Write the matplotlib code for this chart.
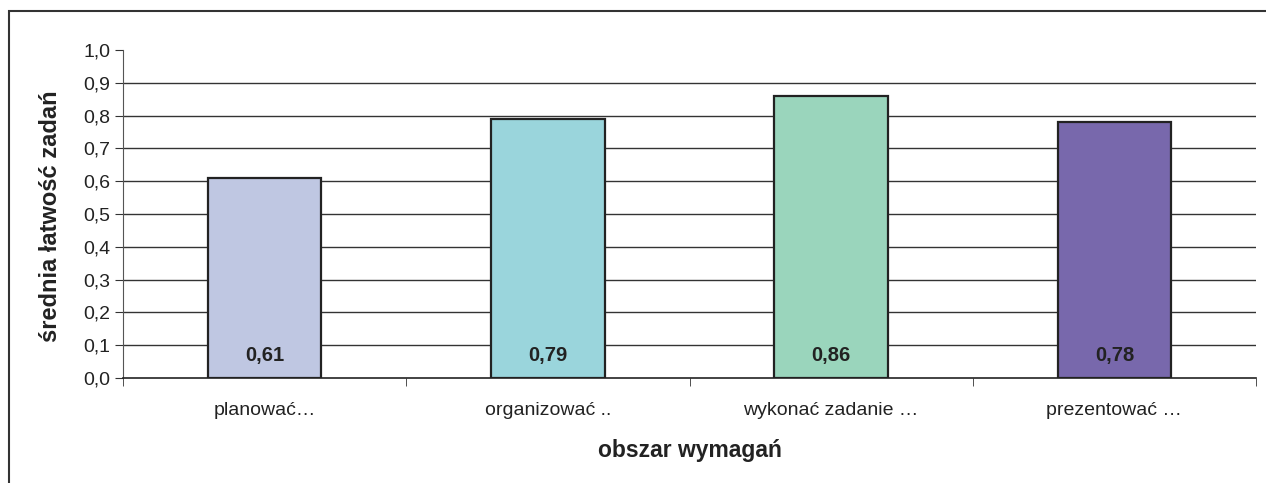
import matplotlib
matplotlib.use("Agg")
import matplotlib.pyplot as plt
from matplotlib.patches import Rectangle
import numpy as np

categories = ["planować…", "organizować ..", "wykonać zadanie …", "prezentować …"]
values = [0.61, 0.79, 0.86, 0.78]
value_labels = ["0,61", "0,79", "0,86", "0,78"]
colors = ["#BFC7E2", "#9AD5DC", "#9AD5BC", "#7868AC"]
yticks = [0.0, 0.1, 0.2, 0.3, 0.4, 0.5, 0.6, 0.7, 0.8, 0.9, 1.0]
ytick_labels = ["0,0", "0,1", "0,2", "0,3", "0,4", "0,5", "0,6", "0,7", "0,8", "0,9", "1,0"]

plt.rcParams['font.family'] = ['Liberation Sans', 'DejaVu Sans']

W, H = 1266, 483
fig = plt.figure(figsize=(W / 100, H / 100), dpi=100)
fig.patches.append(Rectangle((9 / W, -0.1), 1.2, 1 - 11 / H + 0.1, transform=fig.transFigure,
                             fill=False, edgecolor="#333333", linewidth=1.5, zorder=0))

ax = fig.add_axes([123 / W, 1 - 378 / H, (1256 - 123) / W, (378 - 50) / H])
x = np.arange(len(categories))
ax.bar(x, values, width=0.40, color=colors, edgecolor="#222222", linewidth=1.6, zorder=3)
for xi, lab in zip(x, value_labels):
    ax.text(xi, 0.07, lab, ha="center", va="center", fontsize=14.5, fontweight="bold",
            color="#222222", zorder=4)

ax.set_xlim(-0.5, len(categories) - 0.5)
ax.set_ylim(0, 1.0)
ax.set_yticks(yticks)
ax.set_yticklabels(ytick_labels, fontsize=14, color="#222222")
for y in yticks[1:-1]:
    ax.axhline(y, color="#333333", linewidth=1.0, zorder=1)

ax.set_xticks(x)
ax.set_xticklabels(categories, fontsize=14, color="#222222")
ax.tick_params(axis="x", length=0, pad=17)
ax.set_xticks(np.arange(len(categories) + 1) - 0.5, minor=True)
ax.tick_params(axis="x", which="minor", length=6, direction="out", color="#333333")
ax.tick_params(axis="y", length=6, direction="out", color="#333333", pad=3)

for s in ["top", "right"]:
    ax.spines[s].set_visible(False)
ax.spines["left"].set_color("#555555")
ax.spines["bottom"].set_color("#222222")
ax.spines["bottom"].set_linewidth(1.2)

fig.text(51 / W, 1 - 216 / H, "średnia łatwość zadań", rotation=90, ha="center", va="center",
         fontsize=17, fontweight="bold", color="#222222")
fig.text(689.5 / W, 1 - 451 / H, "obszar wymagań", ha="center", va="center",
         fontsize=16.5, fontweight="bold", color="#222222")

fig.savefig("out.png", dpi=100)
